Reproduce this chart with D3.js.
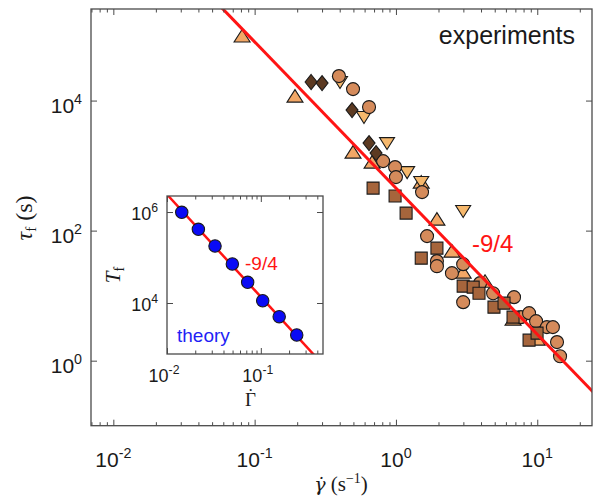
<!DOCTYPE html>
<html>
<head>
<meta charset="utf-8">
<script src="https://cdn.jsdelivr.net/npm/d3@7"></script>
<style>
  body { margin: 0; background: #fff; }
  text { font-family: "Liberation Sans", Arial, sans-serif; }
  .serif { font-family: "Liberation Serif", "DejaVu Serif", serif; }
  .accent { font-family: "DejaVu Serif", serif; }
</style>
</head>
<body>
<div id="chart"></div>
<script>
const width = 597,
      height = 497;

// experiments: shear rate (1/s) vs failure time (s), one pair of arrays per marker type
const triUpX   = [0.0815, 0.193, 0.497, 0.678, 1.51, 1.95, 2.49, 2.99, 4.27, 6.74, 9.97];
const triUpY   = [9.5e4, 1.13e4, 1556, 1092, 538, 145, 46.7, 22.2, 16.1, 4.2, 2.07];
const triDownX = [0.402, 0.594, 0.865, 1.2, 1.51, 2.99];
const triDownY = [1.93e4, 5575, 2220, 794, 560, 200];
const circleX  = [0.395, 0.497, 0.645, 0.811, 0.986, 1.0, 1.53, 1.66, 1.95, 1.95, 2.49, 2.99, 2.99, 3.94, 4.87, 6.85, 7.67, 8.75, 9.81, 11.7, 12.9, 13.8, 14.5];
const circleY  = [2.38e4, 1.5e4, 7943, 1172, 948, 665, 391, 82.3, 34, 28.4, 22.2, 30.5, 7.94, 15.6, 10.9, 9.48, 4.67, 5.38, 4.05, 3.28, 3.28, 1.93, 1.17];
const squareX  = [0.689, 0.986, 1.18, 1.95, 1.51, 2.99, 3.52, 3.87, 4.94, 5.82, 6.74, 8.75, 9.97];
const squareY  = [451, 340, 186, 53.8, 37.7, 14, 13.5, 10.9, 6.65, 7.67, 4.67, 2.07, 2.65];
const diamondX = [0.251, 0.3, 0.489, 0.645, 0.723];
const diamondY = [1.93e4, 1.86e4, 7140, 2220, 1556];

// -9/4 guide line, end points
const fitX = [0.05, 25];
const fitY = [3.8e5, 0.324];

// theory (inset)
const theoryX = [0.01436, 0.0216, 0.0325, 0.0497, 0.0724, 0.1047, 0.157, 0.2415];
const theoryY = [9.85e5, 4.17e5, 1.79e5, 7.2e4, 2.85e4, 1.12e4, 5000, 1980];
const theoryFitX = [0.01, 0.46];
const theoryFitY = [2.43e6, 440];

// ticks
const xMajor = [0.01, 0.1, 1, 10];
const xMajorLabels = ["-2", "-1", "0", "1"];
const yMajor = [1, 100, 10000];
const yMajorLabels = ["0", "2", "4"];
const insetXMajor = [0.01, 0.1];
const insetXLabels = ["-2", "-1"];
const insetYMajor = [1e4, 1e6];
const insetYLabels = ["4", "6"];

const plot = {left: 91, right: 592, top: 9, bottom: 425.7};
const box = {left: 167, right: 323, top: 196, bottom: 354};
const axisColor = "#4a4a4a";

const svg = d3.select("#chart").append("svg")
    .attr("width", width)
    .attr("height", height);

const x = d3.scaleLog().domain([0.00695, 24.4]).range([plot.left, plot.right]);
const y = d3.scaleLog().domain([0.1, 2.56e5]).range([plot.bottom, plot.top]);
const xi = d3.scaleLog().domain([0.01, 0.46]).range([box.left, box.right]);
const yi = d3.scaleLog().domain([757, 2.25e6]).range([box.bottom, box.top]);

svg.append("defs").append("clipPath").attr("id", "clip-main")
  .append("rect")
    .attr("x", plot.left).attr("y", plot.top)
    .attr("width", plot.right - plot.left).attr("height", plot.bottom - plot.top);
svg.select("defs").append("clipPath").attr("id", "clip-inset")
  .append("rect")
    .attr("x", box.left).attr("y", box.top)
    .attr("width", box.right - box.left).attr("height", box.bottom - box.top);

function drawTicks(g, xs, ys, r, xMaj, yMaj) {
    const minor = xs.ticks().filter(v => !xMaj.some(m => Math.abs(Math.log10(v / m)) < 1e-6));
    const axes = [
        [d3.axisBottom(xs).tickValues(minor).tickSize(-3.5), r.bottom, true],
        [d3.axisBottom(xs).tickValues(xMaj).tickSize(-6), r.bottom, true],
        [d3.axisTop(xs).tickValues(minor).tickSize(-3.5), r.top, true],
        [d3.axisTop(xs).tickValues(xMaj).tickSize(-6), r.top, true],
        [d3.axisLeft(ys).tickValues(yMaj).tickSize(-6), r.left, false],
        [d3.axisRight(ys).tickValues(yMaj).tickSize(-6), r.right, false]
    ];
    axes.forEach(([ax, pos, horiz]) => {
        const a = g.append("g")
            .attr("transform", horiz ? `translate(0,${pos})` : `translate(${pos},0)`)
            .call(ax.tickFormat(""));
        a.select(".domain").remove();
        a.selectAll("line").attr("stroke", axisColor).attr("stroke-width", 1);
    });
    g.append("rect")
        .attr("x", r.left).attr("y", r.top)
        .attr("width", r.right - r.left).attr("height", r.bottom - r.top)
        .attr("fill", "none")
        .attr("stroke", axisColor)
        .attr("stroke-width", 1.3);
}

function powText(g, px, py, exp, size, anchor) {
    const t = g.append("text")
        .attr("x", px).attr("y", py)
        .attr("font-size", size)
        .attr("fill", "#1a1a1a")
        .attr("text-anchor", anchor);
    t.append("tspan").text("10");
    t.append("tspan").attr("dy", -size * 0.42).attr("font-size", size * 0.68).text(exp);
}

const shapes = {
    triUp: "M0,-7.5L8,5L-8,5Z",
    triDown: "M0,6.5L7.5,-5.5L-7.5,-5.5Z",
    square: "M-6,-6H6V6H-6Z",
    diamond: "M0,-7.5L6,0L0,7.5L-6,0Z"
};

const series = [
    {xs: triUpX, ys: triUpY, shape: "triUp", fill: "#f2a766"},
    {xs: triDownX, ys: triDownY, shape: "triDown", fill: "#f6b86c"},
    {xs: circleX, ys: circleY, shape: "circle", fill: "#d58b5b"},
    {xs: squareX, ys: squareY, shape: "square", fill: "#a6653c"},
    {xs: diamondX, ys: diamondY, shape: "diamond", fill: "#5c3a22"}
];

// main axes
const main = svg.append("g");
const marks = main.append("g").attr("clip-path", "url(#clip-main)");

series.forEach(s => {
    const pts = s.xs.map((v, i) => [v, s.ys[i]]);
    if (s.shape === "circle") {
        marks.selectAll(null).data(pts).join("circle")
            .attr("cx", d => x(d[0])).attr("cy", d => y(d[1]))
            .attr("r", 6.5)
            .attr("fill", s.fill).attr("stroke", "#1a1a1a").attr("stroke-width", 1.1);
    } else {
        marks.selectAll(null).data(pts).join("path")
            .attr("d", shapes[s.shape])
            .attr("transform", d => `translate(${x(d[0])},${y(d[1])})`)
            .attr("fill", s.fill).attr("stroke", "#1a1a1a").attr("stroke-width", 1.1);
    }
});

marks.append("path")
    .datum(fitX.map((v, i) => [v, fitY[i]]))
    .attr("d", d3.line().x(d => x(d[0])).y(d => y(d[1])))
    .attr("fill", "none")
    .attr("stroke", "#ff1414")
    .attr("stroke-width", 3);

drawTicks(main, x, y, plot, xMajor, yMajor);

xMajor.forEach((v, i) => powText(main, x(v), 467, xMajorLabels[i], 21, "middle"));
yMajor.forEach((v, i) => powText(main, 82, y(v) + 12.5, yMajorLabels[i], 21, "end"));

main.append("text")
    .attr("x", 575).attr("y", 44)
    .attr("text-anchor", "end")
    .attr("font-size", 25)
    .attr("fill", "#1a1a1a")
    .text("experiments");

main.append("text")
    .attr("x", 472).attr("y", 252)
    .attr("font-size", 24)
    .attr("fill", "#ff1414")
    .text("-9/4");

// axis titles
const xt = main.append("text")
    .attr("class", "serif")
    .attr("x", 341).attr("y", 491)
    .attr("text-anchor", "middle")
    .attr("font-size", 21)
    .attr("fill", "#1a1a1a");
xt.append("tspan").attr("class", "accent").attr("font-style", "italic").attr("font-size", 19).text("γ\u0307");
xt.append("tspan").text(" (s");
xt.append("tspan").attr("dy", -8).attr("font-size", 14).text("−1");
xt.append("tspan").attr("dy", 8).text(")");

const yt = main.append("text")
    .attr("class", "serif")
    .attr("transform", "translate(32,218) rotate(-90)")
    .attr("text-anchor", "middle")
    .attr("font-size", 24)
    .attr("fill", "#1a1a1a");
yt.append("tspan").attr("font-style", "italic").text("τ");
yt.append("tspan").attr("dy", 4).attr("font-size", 15).text("f");
yt.append("tspan").attr("dy", -4).text(" (s)");

// inset
const ins = svg.append("g");
ins.append("rect")
    .attr("x", box.left).attr("y", box.top)
    .attr("width", box.right - box.left).attr("height", box.bottom - box.top)
    .attr("fill", "#fff");

const imarks = ins.append("g").attr("clip-path", "url(#clip-inset)");
imarks.append("path")
    .datum(theoryFitX.map((v, i) => [v, theoryFitY[i]]))
    .attr("d", d3.line().x(d => xi(d[0])).y(d => yi(d[1])))
    .attr("fill", "none")
    .attr("stroke", "#ff1414")
    .attr("stroke-width", 2.5);

imarks.selectAll(null).data(theoryX.map((v, i) => [v, theoryY[i]])).join("circle")
    .attr("cx", d => xi(d[0])).attr("cy", d => yi(d[1]))
    .attr("r", 6.2)
    .attr("fill", "#0a0af5").attr("stroke", "#1a1a1a").attr("stroke-width", 1.1);

drawTicks(ins, xi, yi, box, insetXMajor, insetYMajor);

insetXMajor.forEach((v, i) => powText(ins, xi(v) - 3, 382, insetXLabels[i], 18, "middle"));
insetYMajor.forEach((v, i) => powText(ins, 158, yi(v) + 7.5, insetYLabels[i], 18, "end"));

ins.append("text")
    .attr("x", 177).attr("y", 342)
    .attr("font-size", 19)
    .attr("fill", "#1f1ff5")
    .text("theory");

ins.append("text")
    .attr("x", 245).attr("y", 270)
    .attr("font-size", 19)
    .attr("fill", "#ff1414")
    .text("-9/4");

// capital Gamma with a dot accent (combining dot does not show in this font)
const gl = ins.append("text")
    .attr("class", "serif")
    .attr("x", 245).attr("y", 406)
    .attr("font-size", 19)
    .attr("fill", "#1a1a1a");
gl.append("tspan").text("Γ");
gl.append("tspan").attr("dx", -8.5).attr("dy", -4).text("˙");

const it = ins.append("text")
    .attr("class", "serif")
    .attr("transform", "translate(120,275) rotate(-90)")
    .attr("text-anchor", "middle")
    .attr("font-size", 21)
    .attr("fill", "#1a1a1a");
it.append("tspan").attr("font-style", "italic").text("T");
it.append("tspan").attr("dy", 4).attr("font-size", 14).text("f");
</script>
</body>
</html>
